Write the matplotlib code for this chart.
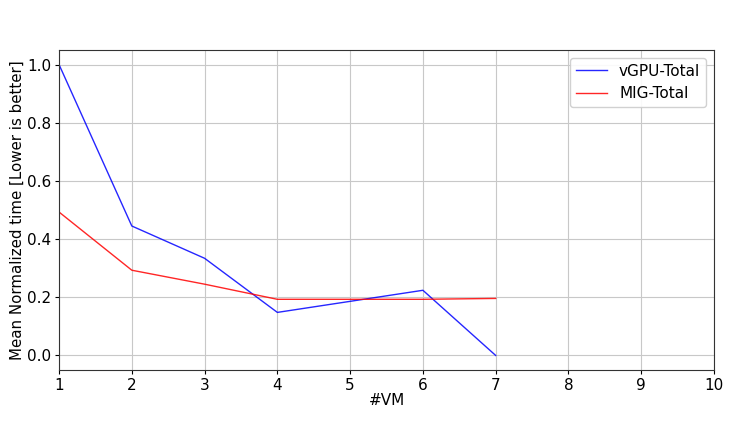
import matplotlib
matplotlib.use("Agg")
import matplotlib.pyplot as plt

vms = [1, 2, 3, 4, 5, 6, 7]
vgpu_total = [1.0, 0.445, 0.334, 0.148, 0.186, 0.224, 0.0]
mig_total = [0.493, 0.293, 0.245, 0.193, 0.193, 0.193, 0.196]
xticks = list(range(1, 11))
yticks = [0.0, 0.2, 0.4, 0.6, 0.8, 1.0]

fig = plt.figure(figsize=(7.52, 4.23), dpi=100)
ax = fig.add_axes([0.0785, 0.1253, 0.871, 0.7565])
ax.plot(vms, vgpu_total, color='blue', lw=1.0, alpha=0.85, label='vGPU-Total')
ax.plot(vms, mig_total, color='red', lw=1.0, alpha=0.85, label='MIG-Total')
ax.set_xlim(1, 10)
ax.set_ylim(-0.05, 1.05)
ax.set_xticks(xticks)
ax.set_yticks(yticks)
ax.tick_params(labelsize=11, length=3, pad=2.5)
ax.grid(True, color='#c8c8c8', lw=0.8)
ax.set_axisbelow(True)
ax.set_xlabel('#VM', fontsize=11, labelpad=0)
ax.set_ylabel('Mean Normalized time [Lower is better]', fontsize=10.8, labelpad=2)
for s in ax.spines.values():
    s.set_color('#333333')
ax.legend(loc='upper right', fontsize=11, framealpha=0.9)
fig.savefig('out.png', dpi=100)
